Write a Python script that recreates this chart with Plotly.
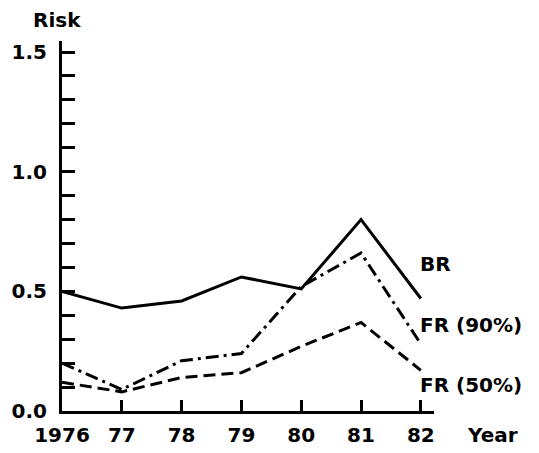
import plotly.graph_objects as go

years = [1976, 1977, 1978, 1979, 1980, 1981, 1982]
x_tick_labels = ["1976", "77", "78", "79", "80", "81", "82"]
br = [0.50, 0.43, 0.46, 0.56, 0.51, 0.80, 0.47]
fr90 = [0.20, 0.09, 0.21, 0.24, 0.52, 0.66, 0.28]
fr50 = [0.12, 0.08, 0.14, 0.16, 0.27, 0.37, 0.17]
y_tick_vals = [round(i * 0.1, 1) for i in range(16)]
y_tick_labels = ["0.0", "", "", "", "", "0.5", "", "", "", "", "1.0", "", "", "", "", "1.5"]
series_labels = ["BR", "FR (90%)", "FR (50%)"]

FONT = dict(family="DejaVu Sans", size=20, color="black", weight="bold")

fig = go.Figure()
fig.add_trace(go.Scatter(x=years, y=br, mode="lines", line=dict(color="black", width=3)))
fig.add_trace(go.Scatter(x=years, y=fr90, mode="lines",
                         line=dict(color="black", width=3, dash="13px,5px,3px,5px")))
fig.add_trace(go.Scatter(x=years, y=fr50, mode="lines",
                         line=dict(color="black", width=3, dash="12px,6px")))

# page body has an 8px default margin; figure is sized/offset to compensate
fig.update_layout(
    width=531, height=445,
    margin=dict(l=54, r=105, t=33, b=42, autoexpand=False),
    paper_bgcolor="white", plot_bgcolor="white",
    showlegend=False,
    font=FONT,
    xaxis=dict(range=[1976, 1982.22], tickvals=years, ticktext=x_tick_labels,
               showline=True, linewidth=3, linecolor="black", showgrid=False, zeroline=False,
               ticks="inside", ticklen=11, tickwidth=2.5, tickcolor="black",
               ticklabelstandoff=4, tickfont=FONT, automargin=False),
    yaxis=dict(range=[0, 1.546], tickvals=y_tick_vals, ticktext=y_tick_labels,
               showline=True, linewidth=3, linecolor="black", showgrid=False, zeroline=False,
               ticks="inside", ticklen=13, tickwidth=2.5, tickcolor="black",
               ticklabelstandoff=8, tickfont=FONT, automargin=False),
)

ann = [
    (series_labels[0], 0.957, 0.397, "left"),
    (series_labels[1], 0.957, 0.232, "left"),
    (series_labels[2], 0.957, 0.070, "left"),
    ("Year", 1.156, -0.065, "center"),
    ("Risk", -0.013, 1.057, "center"),
]
for t, x, y, xa in ann:
    fig.add_annotation(text=t, x=x, y=y, xref="paper", yref="paper", xanchor=xa, yanchor="middle",
                       showarrow=False, font=FONT)

fig.write_html("out.html")
